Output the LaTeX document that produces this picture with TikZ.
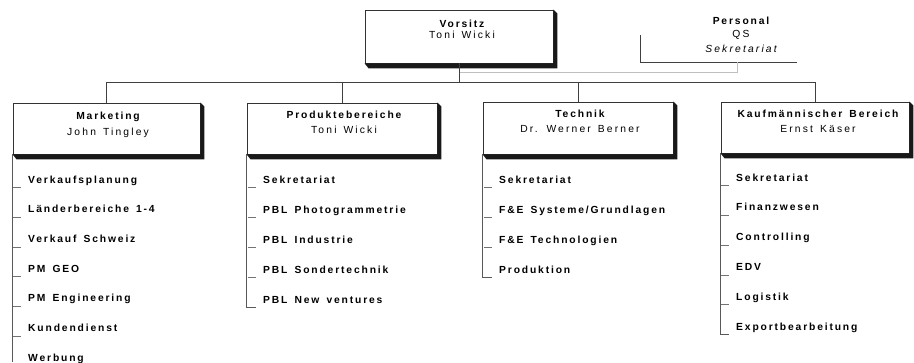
\documentclass[tikz,border=0pt]{standalone}
\usepackage{fontspec}
\newfontfamily\hb[LetterSpace=18,WordSpace=1.5]{Liberation Sans}
\newfontfamily\hr[LetterSpace=21,WordSpace=1.4]{Liberation Sans}
\begin{document}
\begin{tikzpicture}[x=1pt,y=-1pt,
  boxnode/.style={draw=black!80, line width=0.8pt, fill=white, inner sep=0pt},
  shadowfill/.style={fill=black!90},
  hd/.style={font=\fontsize{10.3}{12}\hb\bfseries, inner sep=0pt, anchor=base},
  nm/.style={font=\fontsize{10.3}{12}\hr, inner sep=0pt, anchor=base},
  itm/.style={font=\fontsize{10.3}{12}\hb\bfseries, inner sep=0pt, anchor=base west},
  tickline/.style={draw=black!55, line width=0.6pt},
  trunk/.style={draw=black!65, line width=1pt},
  busline/.style={draw=black!75, line width=0.9pt},
  faint/.style={draw=black!25, line width=0.8pt}]
\useasboundingbox (0,0) rectangle (914,362);

% boxes
\node[boxnode, minimum width=188pt, minimum height=53pt] (vs) at (459,36.5) {};
\node[boxnode, minimum width=187pt, minimum height=51pt] (mk) at (106.5,128.5) {};
\node[boxnode, minimum width=190pt, minimum height=51pt] (pr) at (342,128.5) {};
\node[boxnode, minimum width=190pt, minimum height=52pt] (te) at (578,128) {};
\node[boxnode, minimum width=188pt, minimum height=51pt] (kf) at (815,127.5) {};

% shadows
\foreach \b in {vs,mk,pr,te,kf}{
  \fill[shadowfill] (\b.north east) -- ([shift={(4pt,-4pt)}]\b.north east)
    -- ([shift={(4pt,-5pt)}]\b.south east) -- ([shift={(4pt,-5pt)}]\b.south west)
    -- (\b.south west) -- (\b.south east) -- cycle;
}

% header texts
\node[hd] (vs1) at (462,27) {Vorsitz};
\node[nm] (vs2) at (462,38.5) {Toni Wicki};
\node[hd] (mk1) at (108,119) {Marketing};
\node[nm] (mk2) at (108,135) {John Tingley};
\node[hd] (pr1) at (344,118) {Produktebereiche};
\node[nm] (pr2) at (344,133) {Toni Wicki};
\node[hd] (te1) at (580,117) {Technik};
\node[nm] (te2) at (580,132) {Dr. Werner Berner};
\node[hd] (kf1) at (818,117) {Kaufmännischer Bereich};
\node[nm] (kf2) at (818,132) {Ernst Käser};

% Personal (staff)
\node[hd] (ps1) at (741,24.5) {Personal};
\node[nm] (ps2) at (741,37) {QS};
\node[nm, font=\fontsize{10.3}{12}\hr\itshape] (ps3) at (741,52) {Sekretariat};
\coordinate (psa) at (640,35);
\coordinate (psb) at (640,62);
\coordinate (psc) at (797,62);
\coordinate (psd) at (737,62);
\coordinate (pse) at (737,72);
\draw[busline] (psa) -- (psb) -- (psc);
\draw[faint] (vs.south |- pse) -- (pse) -- (psd);

% bus
\coordinate (busy) at (0,82);
\draw[busline] (vs.south) -- (vs.south |- busy);
\draw[busline] (mk.north) -- (mk.north |- busy) -- (kf.north |- busy) -- (kf.north);
\draw[busline] (pr.north |- busy) -- (pr.north);
\draw[busline] (te.north |- busy) -- (te.north);

% Marketing list
\foreach \t [count=\i from 0] in {Verkaufsplanung,Länderbereiche 1-4,Verkauf Schweiz,PM GEO,PM Engineering,Kundendienst,Werbung}{
  \node[itm] (mki\i) at (28,183+29.7*\i) {\t};
  \draw[tickline] ([shift={(-15pt,-4.5pt)}]mki\i.base west) -- ++(8,0);
}
\coordinate (mkend) at (13,362);
\draw[trunk] (mk.south west) -- (mk.south west |- mkend);

% Produkte list
\foreach \t [count=\i from 0] in {Sekretariat,PBL Photogrammetrie,PBL Industrie,PBL Sondertechnik,PBL New ventures}{
  \node[itm] (pri\i) at (263,183+30*\i) {\t};
  \draw[tickline] ([shift={(-15pt,-4.5pt)}]pri\i.base west) -- ++(8,0);
}
\draw[trunk] (pr.south west) |- ([shift={(-7pt,-4.5pt)}]pri4.base west);

% Technik list
\foreach \t [count=\i from 0] in {Sekretariat,F\&E Systeme/Grundlagen,F\&E Technologien,Produktion}{
  \node[itm] (tei\i) at (499,183+30*\i) {\t};
  \draw[tickline] ([shift={(-15pt,-4.5pt)}]tei\i.base west) -- ++(8,0);
}
\draw[trunk] (te.south west) |- ([shift={(-7pt,-4.5pt)}]tei3.base west);

% Kaufmaennisch list
\foreach \t [count=\i from 0] in {Sekretariat,Finanzwesen,Controlling,EDV,Logistik,Exportbearbeitung}{
  \node[itm] (kfi\i) at (736,181+29.8*\i) {\t};
  \draw[tickline] ([shift={(-15pt,-4.5pt)}]kfi\i.base west) -- ++(8,0);
}
\draw[trunk] (kf.south west) |- ([shift={(-7pt,-4.5pt)}]kfi5.base west);
\end{tikzpicture}
\end{document}
